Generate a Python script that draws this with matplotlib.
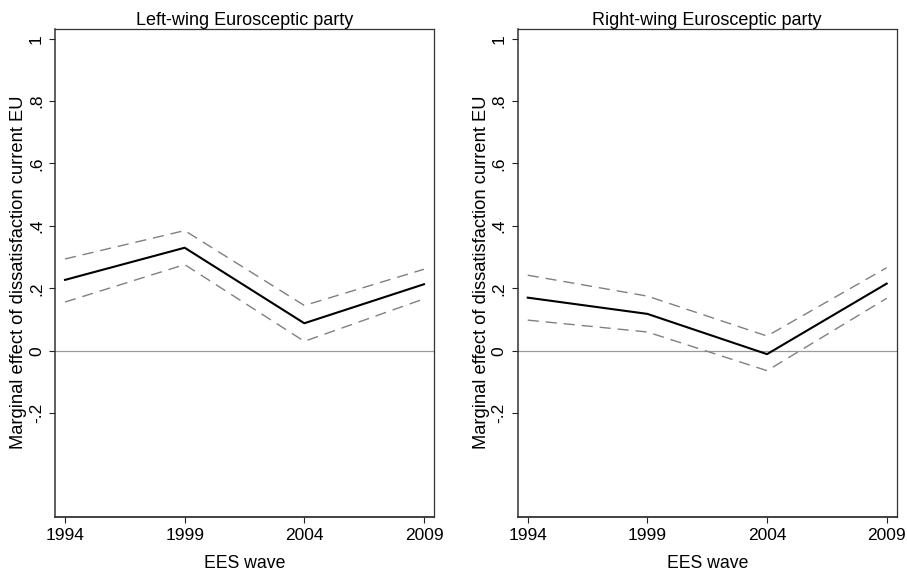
import matplotlib
matplotlib.use("Agg")
import matplotlib.pyplot as plt

plt.rcParams['font.family'] = ['Liberation Sans', 'DejaVu Sans']

waves = [1994, 1999, 2004, 2009]
wave_labels = ["1994", "1999", "2004", "2009"]

left_est = [0.227, 0.330, 0.088, 0.213]
left_hi = [0.294, 0.385, 0.145, 0.261]
left_lo = [0.156, 0.276, 0.030, 0.166]

right_est = [0.170, 0.118, -0.011, 0.215]
right_hi = [0.242, 0.175, 0.047, 0.266]
right_lo = [0.098, 0.060, -0.064, 0.168]

titles = ["Left-wing Eurosceptic party", "Right-wing Eurosceptic party"]
yticks = [-0.2, 0, 0.2, 0.4, 0.6, 0.8, 1.0]
ytick_labels = ["-.2", "0", ".2", ".4", ".6", ".8", "1"]

fig = plt.figure(figsize=(9.07, 5.76), dpi=100)
W, H = 907, 576
panels = [(55, 434), (517.7, 896.7)]
top, bottom = 28.7, 516.7
data = [(left_est, left_hi, left_lo), (right_est, right_hi, right_lo)]

for (x0, x1), title, (est, hi, lo) in zip(panels, titles, data):
    ax = fig.add_axes([x0 / W, 1 - bottom / H, (x1 - x0) / W, (bottom - top) / H])
    ax.axhline(0, color='#999999', lw=0.9, zorder=1)
    ax.plot(waves, hi, color='#808080', lw=1.0, dashes=(8, 5), zorder=2)
    ax.plot(waves, lo, color='#808080', lw=1.0, dashes=(8, 5), zorder=2)
    ax.plot(waves, est, color='black', lw=1.5, zorder=3)
    ax.set_xlim(1993.58, 2009.42)
    ax.set_ylim(-0.532, 1.032)
    ax.set_xticks(waves)
    ax.set_xticklabels(wave_labels, fontsize=12.5)
    ax.set_yticks(yticks)
    ax.set_yticklabels(ytick_labels, fontsize=12.5, rotation=90, va='center')
    ax.tick_params(direction='out', length=4, width=0.8, color='#222222', pad=4)
    for s in ax.spines.values():
        s.set_color('#333333')
        s.set_linewidth(0.9)
    ax.spines['bottom'].set_linewidth(1.3)
    ax.spines['left'].set_linewidth(1.1)
    ax.set_title(title, fontsize=13, pad=3)
    ax.set_xlabel("EES wave", fontsize=12.7, labelpad=9)
    ax.set_ylabel("Marginal effect of dissatisfaction current EU", fontsize=13.2, labelpad=1)

fig.savefig("out.png", dpi=100)
